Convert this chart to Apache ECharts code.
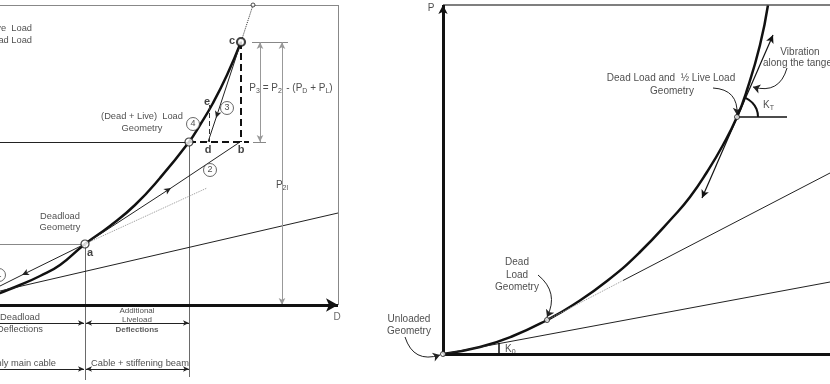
<!DOCTYPE html>
<html>
<head>
<meta charset="utf-8">
<script src="https://cdn.jsdelivr.net/npm/echarts@6/dist/echarts.min.js"></script>
<style>
  html, body { margin: 0; padding: 0; background: #fff; }
  #chart { width: 830px; height: 384px; }
</style>
</head>
<body>
<div id="chart"></div>
<script>
// ---- left panel (D, P) ----
const leftCurve = [[-10, 8], [0, 12], [20, 20], [40, 29], [60, 40], [85, 61], [110, 79], [135, 100], [160, 127], [189, 163], [200, 180], [213, 202], [227, 230], [241, 263]]
const leftCurveExt = [[241, 263], [253, 300]]
const leftThin = [
  [[0, 163], [189, 163]],
  [[0, 14], [338, 92]],
  [[171, 117], [240, 163]],
  [[216, 187], [208, 163]],
  [[22, 30], [0, 19]],
]
const leftThinArrow = [
  [[85, 61], [171, 117]],
  [[241, 263], [216, 187]],
  [[85, 61], [22, 30]],
]
const leftGray = [
  [[0, 300], [338, 300]],
  [[338, 300], [338, 0]],
  [[0, 61], [85, 61]],
  [[252, 263], [288, 263]],
  [[253, 163], [266, 163]],
]
const leftGuides = [
  [[85, 61], [85, -75]],
  [[189, 163], [189, -72]],
]
const leftDims = [
  [[260, 263], [260, 163]],
  [[282, 263], [282, 0]],
]
const leftDashed = [
  [[189, 163], [249, 163]],
  [[241, 263], [241, 163]],
]
const leftDashedThin = [[[209, 200], [209, 163]]]
const leftDotted = [[[85, 61], [207, 117]]]
const leftAxis = [[[0, 0], [338, 0]]]
const leftSpanEnd = [
  [[0, -18], [84, -18]],
  [[0, -64], [84, -64]],
]
const leftSpanBoth = [
  [[86, -18], [189, -18]],
  [[86, -64], [189, -64]],
]
const leftOpenPoints = [[85, 61], [189, 163]]
const leftPointC = [[241, 263]]
const leftTopPoint = [[253, 300]]
const leftCircled = [[-1, 30, '1'], [210, 135, '2'], [227, 197, '3'], [193, 181, '4']]
const leftLetters = [[90, 52, 'a'], [241, 155, 'b'], [232, 264, 'c'], [208, 155, 'd'], [207, 203, 'e']]
const leftTextCenter = [
  [142, 189, '(Dead + Live)  Load'],
  [142, 177, 'Geometry'],
  [60, 89, 'Deadload'],
  [60, 78, 'Geometry'],
  [20, -12, 'Deadload'],
  [20, -24, 'Deflections'],
  [140, -58, 'Cable + stiffening beam'],
]
const leftAxisName = [[337, -12, 'D']]
const leftTextSmall = [
  [137, -6, 'Additional'],
  [137, -15, 'Liveload'],
]
const leftTextSmallBold = [[137, -25, 'Deflections']]
const leftTextRight = [
  [32, 277, 'Dead + Live  Load'],
  [32, 265, 'Dead Load'],
  [56, -58, 'Only main cable'],
]
const leftTextBoxed = [
  [291, 217, '{m|P}{s|3}{m| = P}{s|2l}{m| - (P}{s|D}{m| + P}{s|L}{m|)}'],
  [282, 120, '{m|P}{s|2l}'],
]

// ---- right panel (D, P) ----
const rightCurve = [[0, 0], [37, 7], [70, 18], [104, 34], [130, 49], [164, 73], [197, 102], [230, 137], [247, 157], [264, 182], [280, 209], [294, 237], [304, 264], [317, 309], [325, 349]]
const rightAxes = [[[0, 0], [387, 0]]]
const rightAxisP = [[[0, 0], [0, 349]]]
const rightFrame = [[[0, 349], [387, 349]]]
const rightThin = [
  [[0, 0], [387, 72]],
  [[180, 73.5], [387, 181]],
]
const rightDotted = [[[104, 34], [180, 73.5]]]
const rightTicks = [
  [[56, 0], [56, 11]],
  [[294, 237], [344, 237]],
]
const rightArc = [[315, 237], [313.5, 245], [309, 251.6], [302.5, 256.2]]
const rightTangent = [[[259, 156], [330, 319]]]
const rightCurvedArrows = [
  [[344, 286], [310, 267], 0.5],
  [[270, 266], [294, 239], 0.5],
  [[95, 79], [104, 37], 0.4],
  [[-38, 17], [-3, -1], -0.5],
]
const rightPoints = [[0, 0], [104, 34], [294, 237]]
const rightTextCenter = [
  [357, 302, 'Vibration'],
  [228, 276, 'Dead Load and  ½ Live Load'],
  [229, 263, 'Geometry'],
  [74, 92, 'Dead'],
  [74, 79, 'Load'],
  [74, 67, 'Geometry'],
  [-34, 35, 'Unloaded'],
  [-34, 23, 'Geometry'],
  [-12, 346, 'P'],
]
const rightTextLeft = [
  [320, 291, 'along the tangent'],
  [62, 5, '{m|K}{s|0}'],
  [320, 249, '{m|K}{s|T}'],
]

const FONT = '"Liberation Sans", Arial, sans-serif'
const INK = '#111'

const rich = {
  m: { fontSize: 10, fontFamily: FONT, color: '#222', lineHeight: 14 },
  s: { fontSize: 7, fontFamily: FONT, color: '#222', lineHeight: 14, verticalAlign: 'bottom' },
}

function seg(pair, startSym, endSym, size) {
  return [
    { coord: pair[0], symbol: startSym || 'none', symbolSize: size || 6 },
    { coord: pair[1], symbol: endSym || 'none', symbolSize: size || 6 },
  ]
}

function lineSet(panel, pairs, lineStyle, startSym, endSym, size) {
  return {
    type: 'line', xAxisIndex: panel, yAxisIndex: panel, data: [], silent: true,
    markLine: {
      silent: true, animation: false, symbol: ['none', 'none'],
      label: { show: false }, emphasis: { disabled: true },
      lineStyle: Object.assign({ type: 'solid' }, lineStyle),
      data: pairs.map(p => seg(p, startSym, endSym, size)),
    },
  }
}

function poly(panel, pts, lineStyle, smooth) {
  return {
    type: 'line', xAxisIndex: panel, yAxisIndex: panel, data: pts, smooth: smooth || false,
    symbol: 'none', clip: false, silent: true, animation: false, lineStyle,
  }
}

function texts(panel, list, label) {
  return {
    type: 'scatter', xAxisIndex: panel, yAxisIndex: panel, symbolSize: 0, clip: false, silent: true,
    data: list.map(t => ({ value: [t[0], t[1]], name: t[2] })),
    label: Object.assign({
      show: true, position: 'inside', formatter: p => p.name,
      fontFamily: FONT, fontSize: 10, color: '#222', rich,
    }, label),
  }
}

function marks(panel, pts, size, style) {
  return {
    type: 'scatter', xAxisIndex: panel, yAxisIndex: panel, clip: false, silent: true,
    symbol: 'circle', symbolSize: size, itemStyle: style, data: pts, z: 5,
  }
}

const chart = echarts.init(document.getElementById('chart'))

const series = [
  // left panel
  lineSet(0, leftGray, { color: '#888', width: 1 }),
  lineSet(0, leftGuides, { color: '#444', width: 0.8 }),
  lineSet(0, leftThin, { color: '#222', width: 1 }),
  lineSet(0, leftThinArrow, { color: '#222', width: 1 }, 'none', 'arrow', [5, 7]),
  lineSet(0, leftDims, { color: '#999', width: 1 }, 'arrow', 'arrow', [5, 7]),
  lineSet(0, leftDashed, { color: INK, width: 2, type: [7, 4] }),
  lineSet(0, leftDashedThin, { color: '#333', width: 1, type: [5, 3] }),
  lineSet(0, leftDotted, { color: '#999', width: 1, type: 'dotted' }),
  lineSet(0, leftAxis, { color: INK, width: 3 }, 'none', 'arrow', [10, 12]),
  lineSet(0, leftSpanEnd, { color: '#222', width: 1 }, 'none', 'arrow', [4, 6]),
  lineSet(0, leftSpanBoth, { color: '#222', width: 1 }, 'arrow', 'arrow', [4, 6]),
  poly(0, leftCurve, { color: INK, width: 2.5 }, 0.5),
  poly(0, leftCurveExt, { color: '#333', width: 1, type: 'dotted' }),
  marks(0, leftOpenPoints, 8, { color: '#fff', borderColor: INK, borderWidth: 1.2 }),
  marks(0, leftPointC, 8, { color: '#fff', borderColor: INK, borderWidth: 2.2 }),
  marks(0, leftTopPoint, 4, { color: '#fff', borderColor: '#222', borderWidth: 1 }),
  {
    type: 'scatter', xAxisIndex: 0, yAxisIndex: 0, clip: false, silent: true, z: 5,
    symbol: 'circle', symbolSize: 13,
    itemStyle: { color: '#fff', borderColor: '#444', borderWidth: 1 },
    data: leftCircled.map(t => ({ value: [t[0], t[1]], name: t[2] })),
    label: { show: true, position: 'inside', formatter: p => p.name, fontFamily: FONT, fontSize: 9, color: '#222' },
  },
  texts(0, leftLetters, { fontSize: 11, fontWeight: 'bold', color: INK }),
  texts(0, leftTextCenter, { fontSize: 9.3 }),
  texts(0, leftAxisName, { color: '#444' }),
  texts(0, leftTextSmall, { fontSize: 8 }),
  texts(0, leftTextSmallBold, { fontSize: 8, fontWeight: 'bold', color: '#333' }),
  texts(0, leftTextRight, { align: 'right', fontSize: 9.3 }),
  texts(0, leftTextBoxed, { backgroundColor: '#fff', padding: [0, 1] }),

  // right panel
  lineSet(1, rightFrame, { color: '#555', width: 1.5 }),
  lineSet(1, rightThin, { color: '#222', width: 1 }),
  lineSet(1, rightDotted, { color: '#999', width: 1, type: 'dotted' }),
  lineSet(1, rightAxes, { color: INK, width: 3 }),
  lineSet(1, rightAxisP, { color: INK, width: 3 }, 'none', 'arrow', [7, 9]),
  lineSet(1, rightTicks, { color: INK, width: 1.5 }),
  lineSet(1, rightTangent, { color: INK, width: 1.2 }, 'arrow', 'arrow', [6, 8]),
  ...rightCurvedArrows.map(a => ({
    type: 'lines', coordinateSystem: 'cartesian2d', xAxisIndex: 1, yAxisIndex: 1,
    silent: true, animation: false,
    symbol: ['none', 'arrow'], symbolSize: [5, 7],
    lineStyle: { color: '#222', width: 1, opacity: 1, curveness: a[2] },
    data: [{ coords: [a[0], a[1]] }],
  })),
  poly(1, rightArc, { color: INK, width: 2 }, 0.5),
  poly(1, rightCurve, { color: INK, width: 2.5 }, 0.5),
  marks(1, rightPoints, 5, { color: '#fff', borderColor: INK, borderWidth: 1 }),
  texts(1, rightTextCenter, {}),
  texts(1, rightTextLeft, { align: 'left' }),
]

chart.setOption({
  animation: false,
  backgroundColor: '#fff',
  grid: [
    { left: 0, top: 5, width: 338, height: 379 },
    { left: 383, top: 5, width: 447, height: 379 },
  ],
  xAxis: [
    { type: 'value', gridIndex: 0, min: 0, max: 338, show: false },
    { type: 'value', gridIndex: 1, min: -60, max: 387, show: false },
  ],
  yAxis: [
    { type: 'value', gridIndex: 0, min: -79, max: 300, show: false },
    { type: 'value', gridIndex: 1, min: -30, max: 349, show: false },
  ],
  series,
})
</script>
</body>
</html>
